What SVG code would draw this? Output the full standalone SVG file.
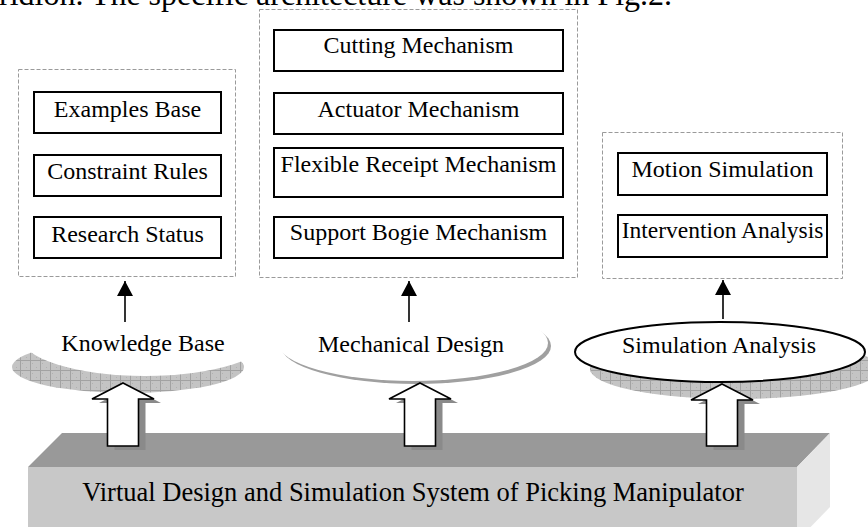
<svg xmlns="http://www.w3.org/2000/svg" width="868" height="527" viewBox="0 0 868 527">
<defs>
<pattern id="hatch" width="10" height="10" patternUnits="userSpaceOnUse">
<rect width="10" height="10" fill="#c4c4c4"/>
<rect x="2" y="3" width="1" height="1" fill="#b0b0b0"/>
<rect x="6" y="7" width="1" height="1" fill="#b0b0b0"/>
<path d="M0 0.5H10M0.5 0V10" stroke="#a2a2a2" stroke-width="1"/>
</pattern>
<marker id="ah" markerWidth="16" markerHeight="16" refX="15" refY="8" orient="auto" markerUnits="userSpaceOnUse">
<path d="M0 0L15 8L0 16Z" fill="#000"/>
</marker>
</defs>
<style>
text{font-family:"Liberation Serif","Times New Roman",serif;fill:#000}
.lbl{font-size:24px;text-anchor:middle}
.grp{fill:none;stroke:#9a9a9a;stroke-width:1;stroke-dasharray:4 2}
.box{fill:#fff;stroke:#000;stroke-width:2}
.thin{stroke:#000;stroke-width:1.6;fill:none}
.blk{fill:#fff;stroke:#000;stroke-width:1.6;stroke-linejoin:miter}
.blks{fill:#8a8a8a}
</style>
<rect width="868" height="527" fill="#fff"/>
<text x="-1" y="5" font-size="32">ridion. The specific architecture was shown in Fig.2.</text>

<g id="base">
<polygon points="28,467 62,433 830,433 797,467" fill="#999"/>
<polygon points="797,467 830,433 830,507 797,541" fill="#e6e6e6"/>
<rect x="28" y="467" width="769" height="80" fill="#c8c8c8"/>
<text class="lbl" x="413" y="501" style="font-size:26.5px">Virtual Design and Simulation System of Picking Manipulator</text>
</g>

<g id="knowledge-base">
<ellipse cx="128" cy="367" rx="116" ry="26" fill="url(#hatch)"/>
<ellipse cx="145" cy="336" rx="125" ry="40" fill="#fff"/>
<text class="lbl" x="143" y="351">Knowledge Base</text>
</g>

<g id="mechanical-design">
<ellipse cx="416" cy="346" rx="135" ry="38" fill="#a0a0a0"/>
<ellipse cx="413" cy="343" rx="135" ry="38" fill="#fff"/>
<text class="lbl" x="411" y="352">Mechanical Design</text>
</g>

<g id="simulation-analysis">
<ellipse cx="735" cy="369" rx="145" ry="30" fill="url(#hatch)"/>
<ellipse cx="720" cy="352" rx="145" ry="30" fill="#fff" stroke="#000" stroke-width="2"/>
<text class="lbl" x="719" y="353">Simulation Analysis</text>
</g>

<g id="knowledge-group">
<rect class="grp" x="18.5" y="69.5" width="217" height="207"/>
<g id="examples-base"><rect class="box" x="34" y="92" width="187" height="41"/><text class="lbl" x="127.5" y="117">Examples Base</text></g>
<g id="constraint-rules"><rect class="box" x="34" y="155" width="187" height="41"/><text class="lbl" x="127.5" y="179">Constraint Rules</text></g>
<g id="research-status"><rect class="box" x="34" y="217" width="187" height="41"/><text class="lbl" x="127.5" y="242">Research Status</text></g>
</g>

<g id="mechanical-group">
<rect class="grp" x="259.5" y="9.5" width="318" height="268"/>
<g id="cutting"><rect class="box" x="274" y="30" width="289" height="41"/><text class="lbl" x="418.5" y="53">Cutting Mechanism</text></g>
<g id="actuator"><rect class="box" x="274" y="93" width="289" height="41"/><text class="lbl" x="418.5" y="117">Actuator Mechanism</text></g>
<g id="flexible"><rect class="box" x="274" y="148" width="289" height="49"/><text class="lbl" x="418.5" y="172">Flexible Receipt Mechanism</text></g>
<g id="support"><rect class="box" x="274" y="217" width="289" height="41"/><text class="lbl" x="418.5" y="240">Support Bogie Mechanism</text></g>
</g>

<g id="simulation-group">
<rect class="grp" x="602.5" y="132.5" width="240" height="146"/>
<g id="motion"><rect class="box" x="618" y="153" width="209" height="42"/><text class="lbl" x="722.5" y="177">Motion Simulation</text></g>
<g id="intervention"><rect class="box" x="618" y="215" width="209" height="42"/><text class="lbl" x="722.5" y="238" style="font-size:23.5px">Intervention Analysis</text></g>
</g>

<g id="connectors">
<line class="thin" x1="125" y1="322" x2="125" y2="281" marker-end="url(#ah)"/>
<line class="thin" x1="409" y1="322" x2="409" y2="281" marker-end="url(#ah)"/>
<line class="thin" x1="723" y1="319" x2="723" y2="280" marker-end="url(#ah)"/>
<g transform="translate(123,0)">
<polygon class="blks" transform="translate(7,4)" points="0,383 31,399 15.5,399 15.5,446 -15.5,446 -15.5,399 -31,399"/>
<polygon class="blk" points="0,383 31,399 15.5,399 15.5,446 -15.5,446 -15.5,399 -31,399"/>
</g>
<g transform="translate(420,0)">
<polygon class="blks" transform="translate(7,4)" points="0,383 31,399 15.5,399 15.5,446 -15.5,446 -15.5,399 -31,399"/>
<polygon class="blk" points="0,383 31,399 15.5,399 15.5,446 -15.5,446 -15.5,399 -31,399"/>
</g>
<g transform="translate(722,0)">
<polygon class="blks" transform="translate(7,4)" points="0,384 31,400 15.5,400 15.5,446 -15.5,446 -15.5,400 -31,400"/>
<polygon class="blk" points="0,384 31,400 15.5,400 15.5,446 -15.5,446 -15.5,400 -31,400"/>
</g>
</g>
</svg>
